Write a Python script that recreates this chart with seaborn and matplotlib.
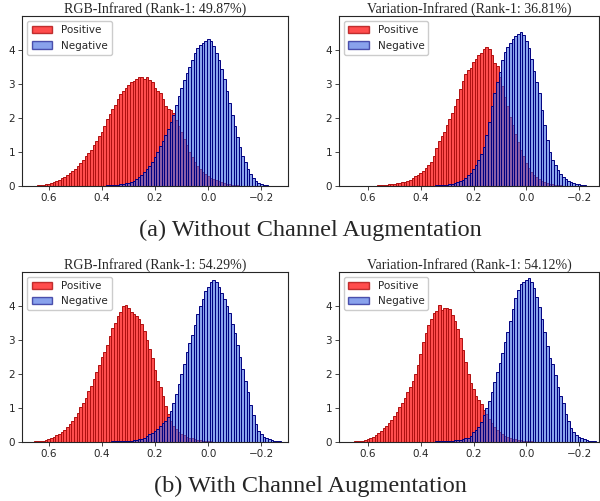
import matplotlib
matplotlib.use("Agg")
import matplotlib.pyplot as plt
from matplotlib.patches import Patch
import numpy as np
import pandas as pd
import seaborn as sns

# bar heights (density), 0.01 wide bins,
# listed from the largest score (left of the inverted axis) to the smallest
p1_pos_start = 0.70
p1_pos = [0.00, 0.01, 0.01, 0.01, 0.02, 0.02, 0.03, 0.04, 0.05, 0.06,
          0.08, 0.10, 0.13, 0.16, 0.20, 0.24, 0.28, 0.33, 0.39, 0.45,
          0.52, 0.60, 0.68, 0.78, 0.88, 0.98, 1.08, 1.20, 1.33, 1.47,
          1.60, 1.78, 1.98, 2.12, 2.28, 2.40, 2.55, 2.70, 2.80, 2.90,
          2.98, 3.05, 3.10, 3.15, 3.20, 3.22, 3.14, 3.20, 3.12, 3.05,
          2.90, 2.80, 2.75, 2.55, 2.35, 2.28, 2.25, 2.15, 1.95, 1.78,
          1.60, 1.40, 1.20, 1.02, 0.85, 0.72, 0.60, 0.50, 0.42, 0.36,
          0.30, 0.25, 0.21, 0.18, 0.15, 0.12, 0.10, 0.08, 0.06, 0.05,
          0.04, 0.03, 0.02, 0.01, 0.01]
p1_neg_start = 0.44
p1_neg = [0.01, 0.01, 0.01, 0.01, 0.02, 0.02, 0.03, 0.03, 0.04, 0.04,
          0.05, 0.06, 0.07, 0.09, 0.11, 0.14, 0.17, 0.22, 0.28, 0.34,
          0.42, 0.50, 0.60, 0.72, 0.86, 1.02, 1.18, 1.34, 1.50, 1.68,
          1.90, 2.10, 2.40, 2.65, 2.90, 3.12, 3.32, 3.50, 3.72, 3.92,
          4.05, 4.15, 4.22, 4.28, 4.32, 4.26, 4.12, 3.92, 3.72, 3.45,
          3.15, 2.80, 2.45, 2.10, 1.78, 1.45, 1.15, 0.88, 0.72, 0.52,
          0.36, 0.24, 0.16, 0.10, 0.07, 0.04, 0.03, 0.02, 0.01]

p2_pos_start = 0.70
p2_pos = [0.00, 0.00, 0.00, 0.01, 0.01, 0.01, 0.01, 0.01, 0.01, 0.01,
          0.02, 0.02, 0.02, 0.02, 0.03, 0.03, 0.04, 0.05, 0.06, 0.07,
          0.08, 0.09, 0.11, 0.12, 0.14, 0.17, 0.20, 0.24, 0.29, 0.34,
          0.40, 0.45, 0.55, 0.62, 0.72, 0.88, 1.12, 1.32, 1.48, 1.60,
          1.80, 1.98, 2.15, 2.35, 2.55, 2.85, 3.08, 3.30, 3.42, 3.48,
          3.66, 3.75, 3.85, 3.92, 4.02, 4.08, 4.02, 3.85, 3.62, 3.52,
          3.20, 2.95, 2.62, 2.35, 2.05, 1.80, 1.55, 1.30, 1.08, 0.88,
          0.70, 0.55, 0.43, 0.34, 0.27, 0.21, 0.16, 0.12, 0.09, 0.07,
          0.06, 0.05, 0.04, 0.03, 0.02, 0.02, 0.01, 0.01, 0.01, 0.01]
p2_neg_start = 0.45
p2_neg = [0.00, 0.00, 0.01, 0.01, 0.01, 0.01, 0.01, 0.02, 0.02, 0.02,
          0.02, 0.03, 0.03, 0.04, 0.04, 0.05, 0.06, 0.08, 0.10, 0.12,
          0.15, 0.19, 0.24, 0.32, 0.40, 0.50, 0.62, 0.76, 0.95, 1.15,
          1.50, 1.90, 2.35, 2.75, 3.05, 3.35, 3.70, 3.95, 4.10, 4.22,
          4.32, 4.40, 4.48, 4.52, 4.45, 4.28, 4.05, 3.75, 3.40, 3.05,
          2.75, 2.25, 1.80, 1.35, 1.00, 0.78, 0.62, 0.48, 0.36, 0.28,
          0.22, 0.17, 0.13, 0.10, 0.08, 0.06, 0.04, 0.03, 0.02, 0.01]

p3_pos_start = 0.70
p3_pos = [0.00, 0.01, 0.01, 0.01, 0.01, 0.02, 0.02, 0.03, 0.04, 0.05,
          0.08, 0.11, 0.15, 0.19, 0.24, 0.30, 0.36, 0.44, 0.52, 0.62,
          0.72, 0.85, 1.02, 1.15, 1.30, 1.48, 1.65, 1.85, 2.05, 2.25,
          2.48, 2.65, 2.85, 3.10, 3.35, 3.50, 3.70, 3.82, 3.98, 4.02,
          3.92, 3.80, 3.75, 3.70, 3.62, 3.45, 3.25, 3.00, 2.72, 2.45,
          2.10, 1.80, 1.62, 1.35, 1.05, 0.82, 0.62, 0.48, 0.38, 0.30,
          0.24, 0.19, 0.15, 0.12, 0.10, 0.08, 0.06, 0.05, 0.04, 0.03,
          0.02, 0.02, 0.01, 0.01, 0.01]
p3_neg_start = 0.42
p3_neg = [0.00, 0.01, 0.01, 0.01, 0.01, 0.01, 0.02, 0.02, 0.02, 0.03,
          0.03, 0.03, 0.04, 0.04, 0.05, 0.06, 0.07, 0.09, 0.12, 0.16,
          0.22, 0.26, 0.32, 0.38, 0.46, 0.54, 0.62, 0.72, 0.90, 1.15,
          1.42, 1.70, 2.00, 2.30, 2.65, 2.90, 3.15, 3.42, 3.75, 3.98,
          4.20, 4.42, 4.55, 4.70, 4.74, 4.70, 4.55, 4.38, 4.20, 4.00,
          3.78, 3.45, 3.20, 2.85, 2.50, 2.15, 1.80, 1.45, 1.08, 0.78,
          0.52, 0.33, 0.22, 0.15, 0.11, 0.08, 0.05, 0.04, 0.03, 0.02]

p4_pos_start = 0.70
p4_pos = [0.00, 0.01, 0.01, 0.01, 0.01, 0.02, 0.02, 0.03, 0.04, 0.05,
          0.08, 0.11, 0.15, 0.20, 0.27, 0.33, 0.40, 0.48, 0.56, 0.64,
          0.75, 0.88, 1.02, 1.15, 1.30, 1.45, 1.60, 1.78, 1.98, 2.25,
          2.58, 2.92, 3.20, 3.42, 3.62, 3.78, 3.85, 4.02, 3.88, 3.94,
          3.92, 3.90, 3.72, 3.55, 3.30, 3.05, 2.70, 2.35, 2.00, 1.72,
          1.55, 1.35, 1.22, 1.10, 0.95, 0.82, 0.68, 0.55, 0.45, 0.36,
          0.29, 0.23, 0.18, 0.15, 0.12, 0.09, 0.07, 0.06, 0.05, 0.04,
          0.03, 0.02, 0.02, 0.01, 0.01]
p4_neg_start = 0.40
p4_neg = [0.00, 0.01, 0.01, 0.01, 0.01, 0.01, 0.02, 0.02, 0.02, 0.03,
          0.03, 0.03, 0.04, 0.05, 0.05, 0.06, 0.08, 0.10, 0.12, 0.16,
          0.28, 0.36, 0.45, 0.58, 0.78, 1.00, 1.20, 1.45, 1.75, 2.05,
          2.32, 2.60, 2.92, 3.22, 3.55, 3.90, 4.22, 4.45, 4.62, 4.70,
          4.74, 4.80, 4.70, 4.52, 4.25, 3.95, 3.60, 3.22, 2.80, 2.45,
          2.30, 1.95, 1.62, 1.35, 1.15, 0.82, 0.62, 0.42, 0.28, 0.20,
          0.15, 0.11, 0.08, 0.06, 0.04, 0.03, 0.02, 0.01, 0.01]

titles = ["RGB-Infrared (Rank-1: 49.87%)", "Variation-Infrared (Rank-1: 36.81%)",
          "RGB-Infrared (Rank-1: 54.29%)", "Variation-Infrared (Rank-1: 54.12%)"]
captions = ["(a) Without Channel Augmentation", "(b) With Channel Augmentation"]
xticks = [0.6, 0.4, 0.2, 0.0, -0.2]
yticks = [0, 1, 2, 3, 4]

BIN = 0.01
POS_FACE, POS_EDGE = "#ff2020", "#b01010"
NEG_FACE, NEG_EDGE = "royalblue", "navy"


def bin_table(start, heights):
    centers = start - BIN * np.arange(len(heights))
    edges = np.sort(np.append(centers + BIN / 2, centers[-1] - BIN / 2))
    df = pd.DataFrame({"score": centers, "density": np.asarray(heights, float)})
    return df, [float(e) for e in np.round(edges, 4)]


def draw_hist(ax, start, heights, face, edge, alpha):
    df, edges = bin_table(start, heights)
    sns.histplot(data=df, x="score", weights="density", bins=edges, ax=ax,
                 stat="count", color=face, edgecolor=edge, alpha=alpha,
                 linewidth=0.7)


sns.set_style("ticks")
plt.rcParams["font.family"] = ["DejaVu Sans"]

fig = plt.figure(figsize=(6.0, 5.01), dpi=100)

# axes boxes in figure fractions: [left, bottom, width, height]
boxes = [[0.037, 0.628, 0.443, 0.340], [0.565, 0.628, 0.433, 0.340],
         [0.037, 0.118, 0.443, 0.340], [0.565, 0.118, 0.433, 0.340]]
xlims = [(0.70, -0.30), (0.71, -0.275), (0.70, -0.30), (0.71, -0.275)]
series = [(p1_pos_start, p1_pos, p1_neg_start, p1_neg),
          (p2_pos_start, p2_pos, p2_neg_start, p2_neg),
          (p3_pos_start, p3_pos, p3_neg_start, p3_neg),
          (p4_pos_start, p4_pos, p4_neg_start, p4_neg)]

for box, lim, title, (ps, pv, ns, nv) in zip(boxes, xlims, titles, series):
    ax = fig.add_axes(box)
    draw_hist(ax, ps, pv, POS_FACE, POS_EDGE, 0.8)
    draw_hist(ax, ns, nv, NEG_FACE, NEG_EDGE, 0.62)
    ax.set_xlim(*lim)
    ax.set_ylim(0, 5.0)
    ax.set_xticks(xticks)
    ax.set_yticks(yticks)
    ax.set_xlabel("")
    ax.set_ylabel("")
    ax.tick_params(labelsize=7.5, length=3, width=0.6, pad=2)
    for sp in ax.spines.values():
        sp.set_linewidth(0.8)
    ax.set_title(title, family="Liberation Serif", fontsize=10, pad=2)
    handles = [Patch(facecolor=POS_FACE, edgecolor=POS_EDGE, alpha=0.8, label="Positive"),
               Patch(facecolor=NEG_FACE, edgecolor=NEG_EDGE, alpha=0.62, label="Negative")]
    ax.legend(handles=handles, loc="upper left", fontsize=7.5, framealpha=1,
              borderpad=0.4, handlelength=2.0, handletextpad=0.8)

fig.text(0.517, 0.541, captions[0], ha="center", va="center",
         family="Liberation Serif", fontsize=17.5)
fig.text(0.517, 0.030, captions[1], ha="center", va="center",
         family="Liberation Serif", fontsize=17.5)

fig.savefig("out.png", dpi=100)
